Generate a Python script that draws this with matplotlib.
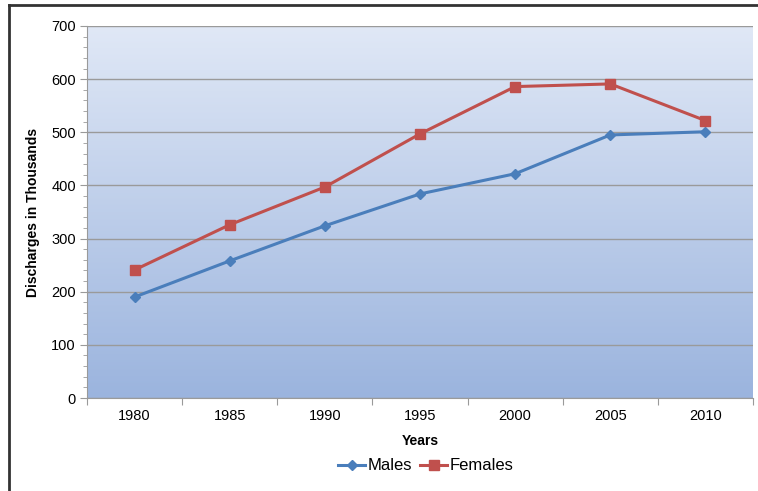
import matplotlib
matplotlib.use("Agg")
import matplotlib.pyplot as plt
import numpy as np
from matplotlib.lines import Line2D
from matplotlib.colors import LinearSegmentedColormap

years = ["1980", "1985", "1990", "1995", "2000", "2005", "2010"]
males = [190, 258, 324, 384, 422, 495, 501]
females = [241, 326, 397, 497, 586, 591, 522]

plt.rcParams['font.family'] = ['Liberation Sans', 'DejaVu Sans']

W, H = 758, 491
fig = plt.figure(figsize=(W/100, H/100), dpi=100)
ax = fig.add_axes([87/W, 1-398/H, (753-87)/W, (398-26)/H])

# gradient background
cmap = LinearSegmentedColormap.from_list("bg", ["#9bb4de", "#e0e8f6"])
grad = np.linspace(0, 1, 256).reshape(-1, 1)
ax.imshow(grad, aspect='auto', cmap=cmap, origin='lower',
          extent=[0, 1, 0, 1], transform=ax.transAxes, zorder=0)

x = np.arange(len(years))
ax.plot(x, males, color="#4a7ebb", lw=2.2, marker="D", ms=5.5, zorder=3, label="Males")
ax.plot(x, females, color="#c0504d", lw=2.2, marker="s", ms=7, zorder=3, label="Females")

ax.set_xlim(-0.5, len(years)-0.5)
ax.set_ylim(0, 700)
ax.set_yticks(np.arange(0, 701, 100))
ax.set_yticks(np.arange(0, 701, 20), minor=True)
ax.yaxis.grid(True, which='major', color="#9a9a9a", lw=1.0, zorder=1)
ax.set_axisbelow(False)

ax.set_xticks(np.arange(-0.5, len(years), 1.0))
ax.set_xticklabels([])
ax.set_xticks(x, minor=True)
ax.set_xticklabels(years, minor=True)
ax.tick_params(axis='x', which='minor', length=0, pad=8, labelsize=10.5)
ax.tick_params(axis='x', which='major', length=5, color="#9a9a9a")
ax.tick_params(axis='y', which='major', length=5, color="#9a9a9a", labelsize=10.5, pad=3)
ax.tick_params(axis='y', which='minor', length=3, color="#9a9a9a")

for s in ['top', 'right']:
    ax.spines[s].set_visible(False)
for s in ['left', 'bottom']:
    ax.spines[s].set_color("#9a9a9a")

ax.set_ylabel("Discharges in Thousands", fontweight='bold', fontsize=10, labelpad=8)
ax.set_xlabel("Years", fontweight='bold', fontsize=10, labelpad=8)

handles = [Line2D([], [], color="#4a7ebb", lw=2.2, marker="D", ms=5),
           Line2D([], [], color="#c0504d", lw=2.2, marker="s", ms=6.5)]
fig.legend(handles, ["Males", "Females"], loc='center', bbox_to_anchor=(0.562, 1-466/H),
           ncol=2, frameon=False, fontsize=12, handlelength=1.6, handletextpad=0.15,
           columnspacing=0.5)

# outer frame (left and top)
fig.add_artist(Line2D([9/W, 9/W], [0, 1-5/H], color="#333333", lw=2, transform=fig.transFigure))
fig.add_artist(Line2D([9/W, 1], [1-5/H, 1-5/H], color="#333333", lw=2, transform=fig.transFigure))

fig.savefig("out.png", dpi=100)
